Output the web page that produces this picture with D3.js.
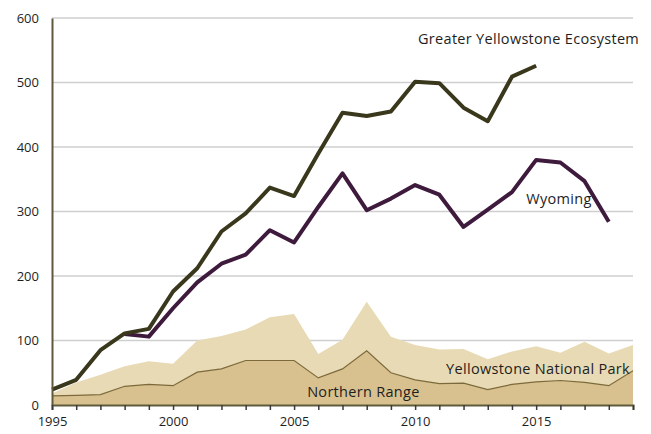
<!DOCTYPE html>
<meta charset="utf-8">
<style>
body { margin: 0; background: #fff; }
.tick text, .label { font-family: "Open Sans", "Noto Sans", sans-serif; fill: #1e1e1e; }
</style>
<body>
<script src="https://cdn.jsdelivr.net/npm/d3@7"></script>
<script>

// years on the x axis
const years = d3.range(1995, 2020);

// Greater Yellowstone Ecosystem, 1995-2015
const gye = [24, 39, 85, 111, 118, 176, 212, 269, 297, 337, 324, 390, 453, 448, 455, 501, 499, 461, 440, 509, 526];
// Wyoming, 1998-2018
const wyoming = [110, 106, 150, 190, 219, 233, 271, 252, 307, 359, 302, 320, 341, 326, 276, 303, 330, 380, 376, 347, 284];
// Yellowstone National Park, 1995-2019
const ynp = [18, 35, 47, 60, 68, 64, 100, 107, 117, 136, 141, 79, 101, 160, 106, 93, 86, 87, 71, 83, 91, 81, 98, 80, 93];
// Northern Range, 1995-2019
const northern = [14, 15, 16, 29, 32, 30, 51, 56, 69, 69, 69, 42, 56, 84, 50, 39, 33, 34, 24, 32, 36, 38, 35, 30, 53];

const yTicks = [0, 100, 200, 300, 400, 500, 600];
const xTicks = [1995, 2000, 2005, 2010, 2015];

const width = 651, height = 434;
const margin = {top: 18, right: 18, bottom: 29, left: 52};

const svg = d3.select("body").append("svg")
    .attr("width", width)
    .attr("height", height);

const x = d3.scaleLinear()
    .domain([1995, 2019])
    .range([margin.left, width - margin.right]);

const y = d3.scaleLinear()
    .domain([0, 600])
    .range([height - margin.bottom, margin.top]);

// gridlines
svg.append("g")
    .selectAll("line")
    .data(yTicks.filter(d => d > 0))
    .enter().append("line")
    .attr("x1", x(1995))
    .attr("x2", x(2019))
    .attr("y1", d => y(d))
    .attr("y2", d => y(d))
    .attr("stroke", "#cfcfcf")
    .attr("stroke-width", 1.3);

// park areas
const area = d3.area()
    .x((d, i) => x(years[i]))
    .y0(y(0))
    .y1(d => y(d));

svg.append("path")
    .datum(ynp)
    .attr("d", area)
    .attr("fill", "#e7dab4");

svg.append("path")
    .datum(northern)
    .attr("d", area)
    .attr("fill", "#d8c18f");

svg.append("path")
    .datum(northern)
    .attr("d", d3.line().x((d, i) => x(years[i])).y(d => y(d)))
    .attr("fill", "none")
    .attr("stroke", "#7d6a3c")
    .attr("stroke-width", 1.2);

// lines
function drawLine(values, start, color) {
  svg.append("path")
      .datum(values)
      .attr("d", d3.line().x((d, i) => x(start + i)).y(d => y(d)))
      .attr("fill", "none")
      .attr("stroke", color)
      .attr("stroke-width", 4)
      .attr("stroke-linejoin", "round");
}

drawLine(wyoming, 1998, "#3e1a3c");
drawLine(gye, 1995, "#3a381c");

// axes
const yAxis = svg.append("g")
    .attr("transform", "translate(" + margin.left + ",0)")
    .call(d3.axisLeft(y).tickValues(yTicks).tickSize(0).tickPadding(13));
yAxis.select(".domain").attr("stroke", "#5e5a3a").attr("stroke-width", 2);
yAxis.selectAll("text").style("font-size", "13px");

const xAxis = svg.append("g")
    .attr("transform", "translate(0," + y(0) + ")")
    .call(d3.axisBottom(x).tickValues(years).tickSize(5).tickFormat(d => xTicks.includes(d) ? d : "").tickPadding(7));
xAxis.select(".domain").attr("stroke", "#5e5a3a").attr("stroke-width", 2);
xAxis.selectAll(".tick line").attr("stroke", "#3a3a3a").attr("stroke-width", 1.5);
xAxis.selectAll("text").style("font-size", "13px");

// series labels
const labels = [
  {text: "Greater Yellowstone Ecosystem", year: 2010.12, value: 560},
  {text: "Wyoming", year: 2014.59, value: 312},
  {text: "Yellowstone National Park", year: 2011.28, value: 48},
  {text: "Northern Range", year: 2005.54, value: 12}
];

svg.append("g")
    .selectAll("text")
    .data(labels)
    .enter().append("text")
    .attr("class", "label")
    .attr("x", d => x(d.year))
    .attr("y", d => y(d.value))
    .style("font-size", "14.5px")
    .style("letter-spacing", "0.3px")
    .text(d => d.text);

</script>
</body>
